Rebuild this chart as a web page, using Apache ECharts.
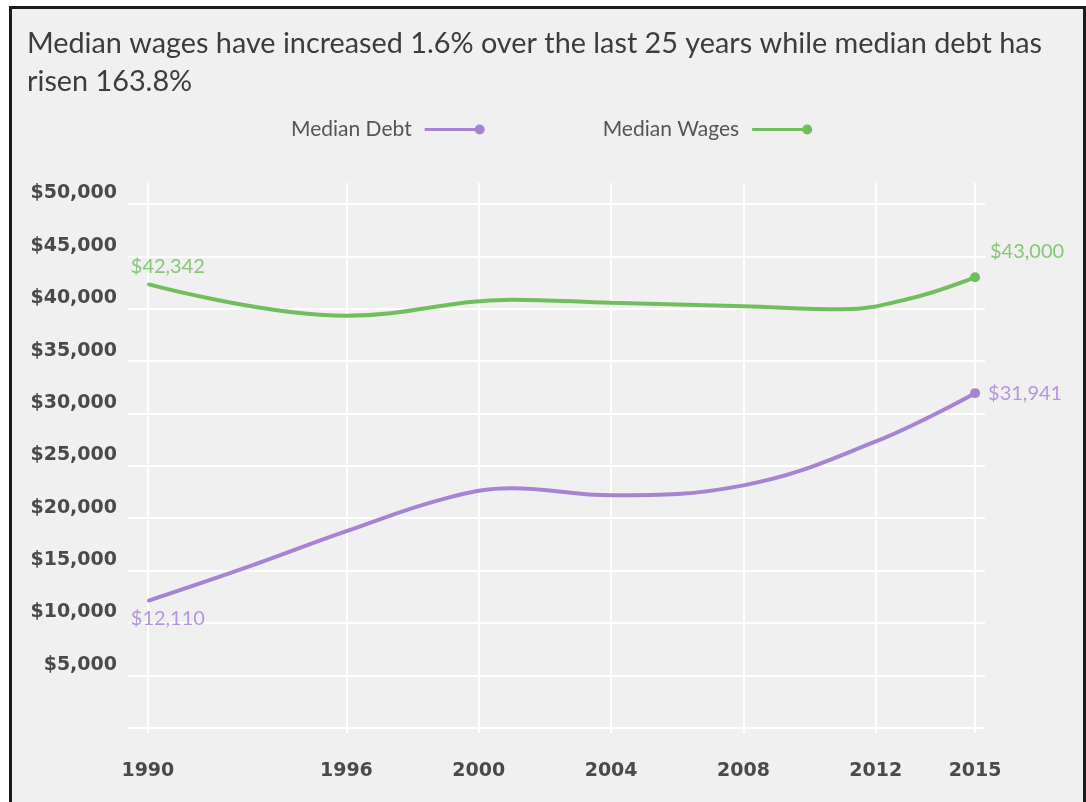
<!DOCTYPE html>
<html>
<head>
<meta charset="utf-8">
<script src="https://cdn.jsdelivr.net/npm/echarts@6/dist/echarts.min.js"></script>
<style>
html,body{margin:0;padding:0;background:#fff;width:1086px;height:802px;overflow:hidden;}
#frame{position:absolute;left:9px;top:6px;width:1071px;height:820px;border:3px solid #1a1a1a;background:#f0f0f0;}
#chart{position:absolute;left:0;top:0;width:1086px;height:802px;}
</style>
</head>
<body>
<div id="frame"></div>
<div id="chart"></div>
<script>
const titleText = 'Median wages have increased 1.6% over the last 25 years while median debt has\nrisen 163.8%';
const xTickYears = [1990, 1996, 2000, 2004, 2008, 2012, 2015];
const yLabelValues = [5000, 10000, 15000, 20000, 25000, 30000, 35000, 40000, 45000, 50000];
const yGridValues = [0, 5000, 10000, 15000, 20000, 25000, 30000, 35000, 40000, 45000, 50000];

const debtYears = [1990, 1993, 1996, 1999, 2001, 2004, 2008, 2012, 2015];
const debtValues = [12110, 15330, 18760, 21900, 22860, 22190, 23140, 27330, 31941];

const wageYears = [1990, 1996, 2001, 2004, 2008, 2011, 2013, 2015];
const wageValues = [42342, 39330, 40860, 40570, 40240, 39950, 40950, 43000];

const debtColor = '#a783d4';
const wageColor = '#6fbf5e';
const debtLabelColor = '#b596dc';
const wageLabelColor = '#86c777';

function money(v) {
  return '$' + Math.round(v).toString().replace(/\B(?=(\d{3})+(?!\d))/g, ',');
}

function buildData(years, values, firstLabel, lastLabel) {
  return years.map((y, i) => {
    const item = { value: [y, values[i]] };
    if (i === 0) {
      item.symbol = 'circle';
      item.symbolSize = 2;
      item.label = Object.assign({ show: true }, firstLabel);
    }
    if (i === years.length - 1) {
      item.symbol = 'circle';
      item.symbolSize = 10;
      item.label = Object.assign({ show: true }, lastLabel);
    }
    return item;
  });
}

const labelFont = { fontFamily: 'Lato', fontSize: 20, formatter: p => money(p.value[1]) };

const debtData = buildData(debtYears, debtValues,
  Object.assign({ position: 'bottom', offset: [20, 2], color: debtLabelColor }, labelFont),
  Object.assign({ position: 'right', distance: 8, color: debtLabelColor }, labelFont));
const wageData = buildData(wageYears, wageValues,
  Object.assign({ position: 'top', offset: [20, -2], color: wageLabelColor }, labelFont),
  Object.assign({ position: 'top', offset: [52, -6], color: wageLabelColor }, labelFont));

const legendIcon = 'path://M0,3.5L51,3.5L51,6.5L0,6.5Z M50,5A5,5 0 1,1 60,5A5,5 0 1,1 50,5Z';

const chart = echarts.init(document.getElementById('chart'), null, { renderer: 'canvas' });
chart.setOption({
  backgroundColor: 'transparent',
  animation: false,
  title: {
    text: titleText,
    left: 22,
    top: 20,
    textStyle: { fontFamily: 'Lato', fontSize: 28.8, fontWeight: 'normal', color: '#3c3c3c', lineHeight: 38 }
  },
  legend: {
    left: 286,
    top: 114,
    itemGap: 118,
    align: 'right',
    itemWidth: 60,
    itemHeight: 10,
    textStyle: { fontFamily: 'Lato', fontSize: 21, color: '#555', padding: [0, 8, 0, 0] },
    data: [
      { name: 'Median Debt', icon: legendIcon, itemStyle: { color: debtColor, borderWidth: 0 } },
      { name: 'Median Wages', icon: legendIcon, itemStyle: { color: wageColor, borderWidth: 0 } }
    ]
  },
  grid: { left: 128, right: 101, top: 183, bottom: 69, containLabel: false },
  xAxis: {
    type: 'value',
    min: 1989.4,
    max: 2015.3,
    axisLine: { show: false },
    axisTick: { show: false, customValues: xTickYears },
    axisLabel: {
      customValues: xTickYears,
      margin: 29,
      fontFamily: 'DejaVu Sans', fontWeight: 'bold', fontSize: 19, color: '#4a4a4a',
      formatter: v => String(Math.round(v))
    },
    splitLine: { show: true, lineStyle: { color: '#ffffff', width: 2 } }
  },
  yAxis: {
    type: 'value',
    min: -500,
    max: 52000,
    axisLine: { show: false },
    axisTick: { show: false, customValues: yGridValues },
    axisLabel: {
      customValues: yLabelValues,
      margin: 11,
      verticalAlign: 'bottom',
      padding: [0, 0, 1, 0],
      fontFamily: 'DejaVu Sans', fontWeight: 'bold', fontSize: 19, color: '#4a4a4a',
      formatter: v => money(v)
    },
    splitLine: { show: true, lineStyle: { color: '#ffffff', width: 2 } }
  },
  series: [
    {
      name: 'Median Debt', type: 'line', smooth: 0.4,
      symbol: 'none', showSymbol: true,
      lineStyle: { color: debtColor, width: 4 },
      itemStyle: { color: debtColor },
      data: debtData
    },
    {
      name: 'Median Wages', type: 'line', smooth: 0.4,
      symbol: 'none', showSymbol: true,
      lineStyle: { color: wageColor, width: 4 },
      itemStyle: { color: wageColor },
      data: wageData
    }
  ]
});
</script>
</body>
</html>
